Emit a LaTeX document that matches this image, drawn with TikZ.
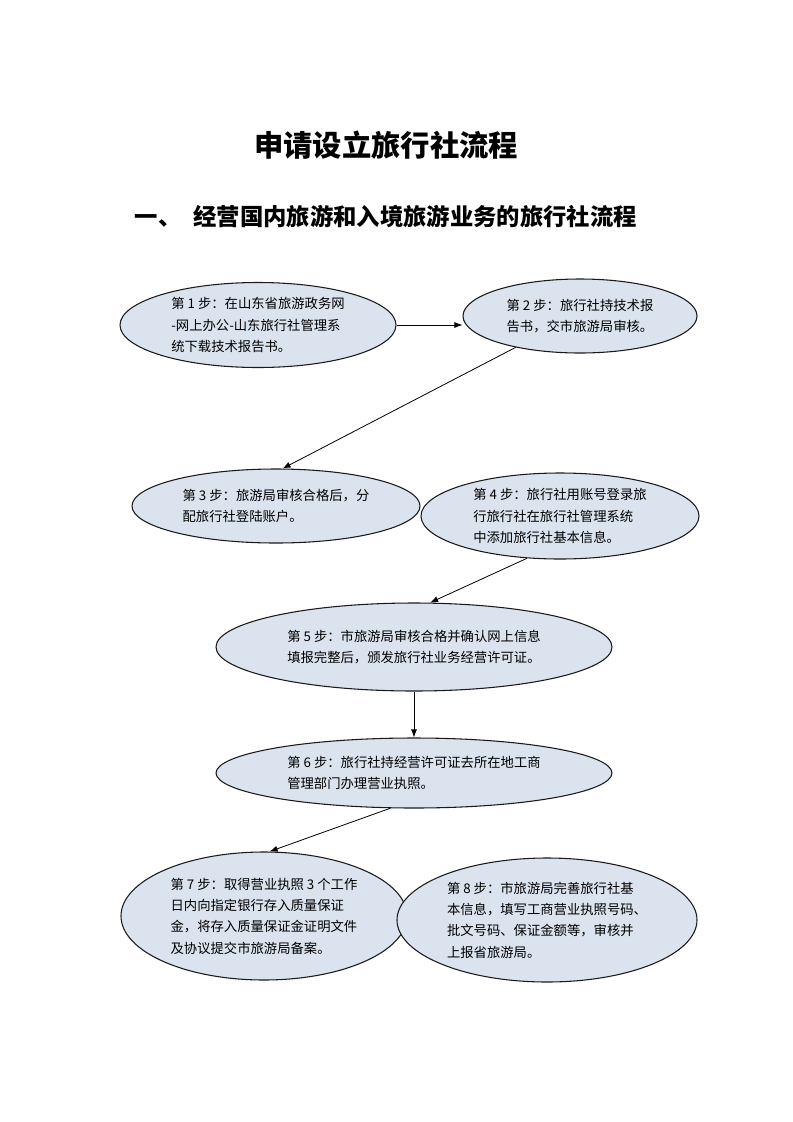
\documentclass[tikz,border=0pt]{standalone}
\usepackage{fontspec}
\setmainfont{Noto Sans CJK SC}
\usepackage{tikz}
\usetikzlibrary{arrows.meta, shapes.geometric}
\definecolor{stepfill}{HTML}{DBE3EF}
\definecolor{stepline}{HTML}{1A1A1A}
\tikzset{
  ebox/.style={ellipse, draw=stepline, fill=stepfill, line width=0.8pt, inner sep=0pt,
    align=left, font=\fontsize{10}{16}\selectfont, text=black},
  flow/.style={-{Latex[length=6pt, width=4.5pt]}, draw=black, line width=0.6pt}
}
\begin{document}
\begin{tikzpicture}[x=0.75pt, y=-0.75pt]
\useasboundingbox (0,0) rectangle (793,1122);
\node[font=\fontsize{22}{26}\selectfont\bfseries] (title) at (386,145) {申请设立旅行社流程};
\node[anchor=west, font=\fontsize{17.5}{20}\selectfont\bfseries] (sub) at (130,217) {一、\hspace{9pt}经营国内旅游和入境旅游业务的旅行社流程};
\node[ebox, minimum width=207pt, minimum height=63.75pt] (s1) at (258,325) {第 1 步：在山东省旅游政务网\\-网上办公-山东旅行社管理系\\统下载技术报告书。};
\node[ebox, minimum width=175.5pt, minimum height=55.5pt] (s2) at (580,316) {第 2 步：旅行社持技术报\\告书，交市旅游局审核。};
\node[ebox, minimum width=216pt, minimum height=55.5pt] (s3) at (276,506) {第 3 步：旅游局审核合格后，分\\配旅行社登陆账户。};
\node[ebox, minimum width=208.5pt, minimum height=64.5pt] (s4) at (560,516) {第 4 步：旅行社用账号登录旅\\行旅行社在旅行社管理系统\\中添加旅行社基本信息。};
\node[ebox, minimum width=297pt, minimum height=66pt] (s5) at (414,647) {第 5 步：市旅游局审核合格并确认网上信息\\填报完整后，颁发旅行社业务经营许可证。};
\node[ebox, minimum width=297pt, minimum height=52.5pt] (s6) at (414,773) {第 6 步：旅行社持经营许可证去所在地工商\\管理部门办理营业执照。};
\node[ebox, minimum width=214.5pt, minimum height=96pt] (s7) at (264,916) {第 7 步：取得营业执照 3 个工作\\日内向指定银行存入质量保证\\金，将存入质量保证金证明文件\\及协议提交市旅游局备案。};
\node[ebox, minimum width=225pt, minimum height=93pt] (s8) at (547,920) {第 8 步：市旅游局完善旅行社基\\本信息，填写工商营业执照号码、\\批文号码、保证金额等，审核并\\上报省旅游局。};
\draw[flow] (s1.east) -- (s1.east -| s2.west);
\draw[flow] (s2.206) -- (s3.80);
\draw[flow] (s4.232) -- (s5.70);
\draw[flow] (s5.south) -- (s6.north);
\draw[flow] (s6.236) -- (s7.85);
\end{tikzpicture}
\end{document}
